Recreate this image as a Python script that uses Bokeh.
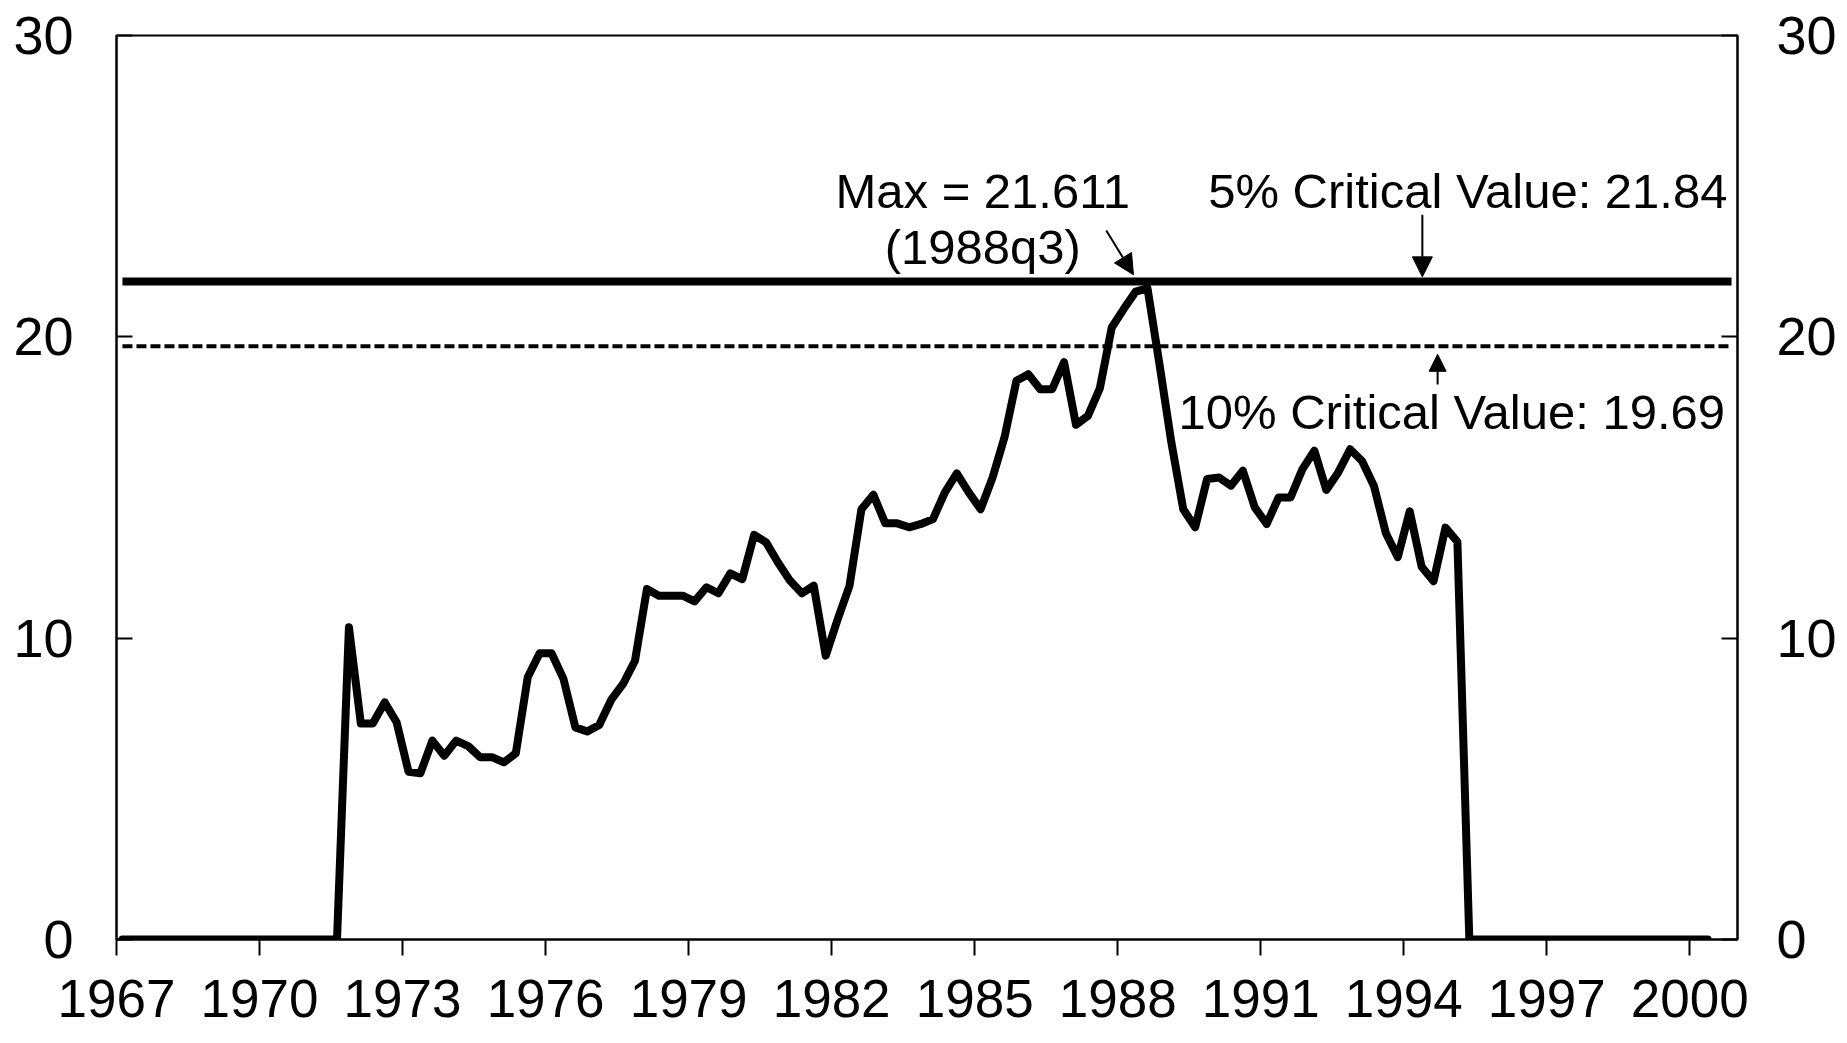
from bokeh.plotting import figure
from bokeh.models import Range1d, LinearAxis, FixedTicker, Label, Arrow, NormalHead
from bokeh.embed import file_html
from bokeh.resources import INLINE

# ---------------- data ----------------
start_year = 1967          # first quarter on the axis: 1967q1
n_axis_quarters = 136      # category axis runs 1967q1 .. 2000q4

# test statistic, one value per quarter from 1967q1 to 2000q2
stat_values = [
    0, 0, 0, 0, 0, 0, 0, 0, 0, 0, 0, 0, 0, 0, 0, 0, 0, 0, 0,          # 1967q1-1971q3
    10.36, 7.17, 7.17, 7.87, 7.21, 5.57, 5.52, 6.60, 6.10, 6.60,      # 1971q4-
    6.42, 6.05, 6.05, 5.88, 6.18, 8.70, 9.50, 9.50, 8.65, 7.04,
    6.90, 7.12, 7.95, 8.48, 9.25, 11.63, 11.41, 11.41, 11.41, 11.22,
    11.69, 11.49, 12.15, 11.96, 13.43, 13.18, 12.51, 11.91, 11.49, 11.74,
    9.42, 10.62, 11.74, 14.28, 14.76, 13.81, 13.81, 13.68, 13.79, 13.95,
    14.84, 15.47, 14.84, 14.28, 15.33, 16.66, 18.54, 18.76, 18.26, 18.26,
    19.16, 17.08, 17.38, 18.29, 20.31, 20.92, 21.50, 21.611, 19.10, 16.50,
    14.28, 13.68, 15.28, 15.33, 15.06, 15.56, 14.34, 13.79, 14.67, 14.67,
    15.61, 16.22, 14.92, 15.50, 16.27, 15.88, 15.05, 13.48, 12.69, 14.21,
    12.37, 11.89, 13.67, 13.20,
    0, 0, 0, 0, 0, 0, 0, 0, 0, 0, 0, 0, 0, 0, 0, 0, 0, 0, 0, 0, 0,  # 1995q2-2000q2
]

crit_5 = 21.84
crit_10 = 19.69
max_value = 21.611
max_quarter = "1988q3"

year_ticks = [1967, 1970, 1973, 1976, 1979, 1982, 1985, 1988, 1991, 1994, 1997, 2000]
y_ticks = [0, 10, 20, 30]

# x position of each quarter: centre of its category slot
stat_x = [start_year + (i + 0.5) / 4 for i in range(len(stat_values))]
axis_x = [start_year + (i + 0.5) / 4 for i in range(n_axis_quarters)]

FONT = "Liberation Sans"

p = figure(
    width=1839, height=1027,
    x_range=Range1d(1967, 2001), y_range=Range1d(0, 30),
    output_backend="svg", toolbar_location=None,
    min_border_left=116, min_border_right=100,
    min_border_top=35, min_border_bottom=88,
    background_fill_color="white", border_fill_color="white",
)
p.grid.visible = False
p.outline_line_color = "black"
p.outline_line_width = 2

# bottom axis
xa = p.xaxis[0]
xa.ticker = FixedTicker(ticks=year_ticks)
xa.major_tick_in = 0
xa.major_tick_out = 16
xa.minor_tick_line_color = None
xa.axis_line_width = 2
xa.major_tick_line_width = 2
xa.major_label_text_font = FONT
xa.major_label_text_font_size = "53px"
xa.major_label_text_color = "black"
xa.major_label_standoff = 24

# left axis
ya = p.yaxis[0]
ya.ticker = FixedTicker(ticks=y_ticks)
ya.major_tick_in = 16
ya.major_tick_out = 0
ya.minor_tick_line_color = None
ya.axis_line_width = 2
ya.major_tick_line_width = 2
ya.major_label_text_font = FONT
ya.major_label_text_font_size = "54px"
ya.major_label_text_color = "black"
ya.major_label_standoff = 43

# right axis
ra = LinearAxis(ticker=FixedTicker(ticks=y_ticks))
ra.major_tick_in = 16
ra.major_tick_out = 0
ra.minor_tick_line_color = None
ra.axis_line_width = 2
ra.major_tick_line_width = 2
ra.major_label_text_font = FONT
ra.major_label_text_font_size = "54px"
ra.major_label_text_color = "black"
ra.major_label_standoff = 39
p.add_layout(ra, "right")

# critical value lines
p.line(axis_x, [crit_5] * len(axis_x), line_color="black", line_width=8, line_cap="butt")
p.line(axis_x, [crit_10] * len(axis_x), line_color="black", line_width=4,
       line_dash="10 4", line_cap="butt")

# test statistic
p.line(stat_x, stat_values, line_color="black", line_width=8,
       line_join="round", line_cap="round")

# annotations
def lab(x, y, text, align):
    p.add_layout(Label(x=x, y=y, y_offset=20, text=text, text_font=FONT,
                       text_font_size="49px", text_color="black", text_align=align,
                       text_baseline="alphabetic"))

lab(1985.17, 24.19, f"Max = {max_value}", "center")
lab(1985.17, 22.32, f"({max_quarter})", "center")
lab(2000.79, 24.19, f"5% Critical Value: {crit_5}", "right")
lab(2000.74, 16.85, f"10% Critical Value: {crit_10}", "right")

p.add_layout(Arrow(end=NormalHead(size=20, fill_color="black", line_color="black"),
                   x_start=1987.76, y_start=23.53, x_end=1988.33, y_end=22.06,
                   line_color="black", line_width=2))
p.add_layout(Arrow(end=NormalHead(size=20, fill_color="black", line_color="black"),
                   x_start=1994.39, y_start=24.05, x_end=1994.39, y_end=21.99,
                   line_color="black", line_width=2))
p.add_layout(Arrow(end=NormalHead(size=17, fill_color="black", line_color="black"),
                   x_start=1994.71, y_start=18.42, x_end=1994.71, y_end=19.42,
                   line_color="black", line_width=2))

open("out.html", "w").write(file_html(p, INLINE))
